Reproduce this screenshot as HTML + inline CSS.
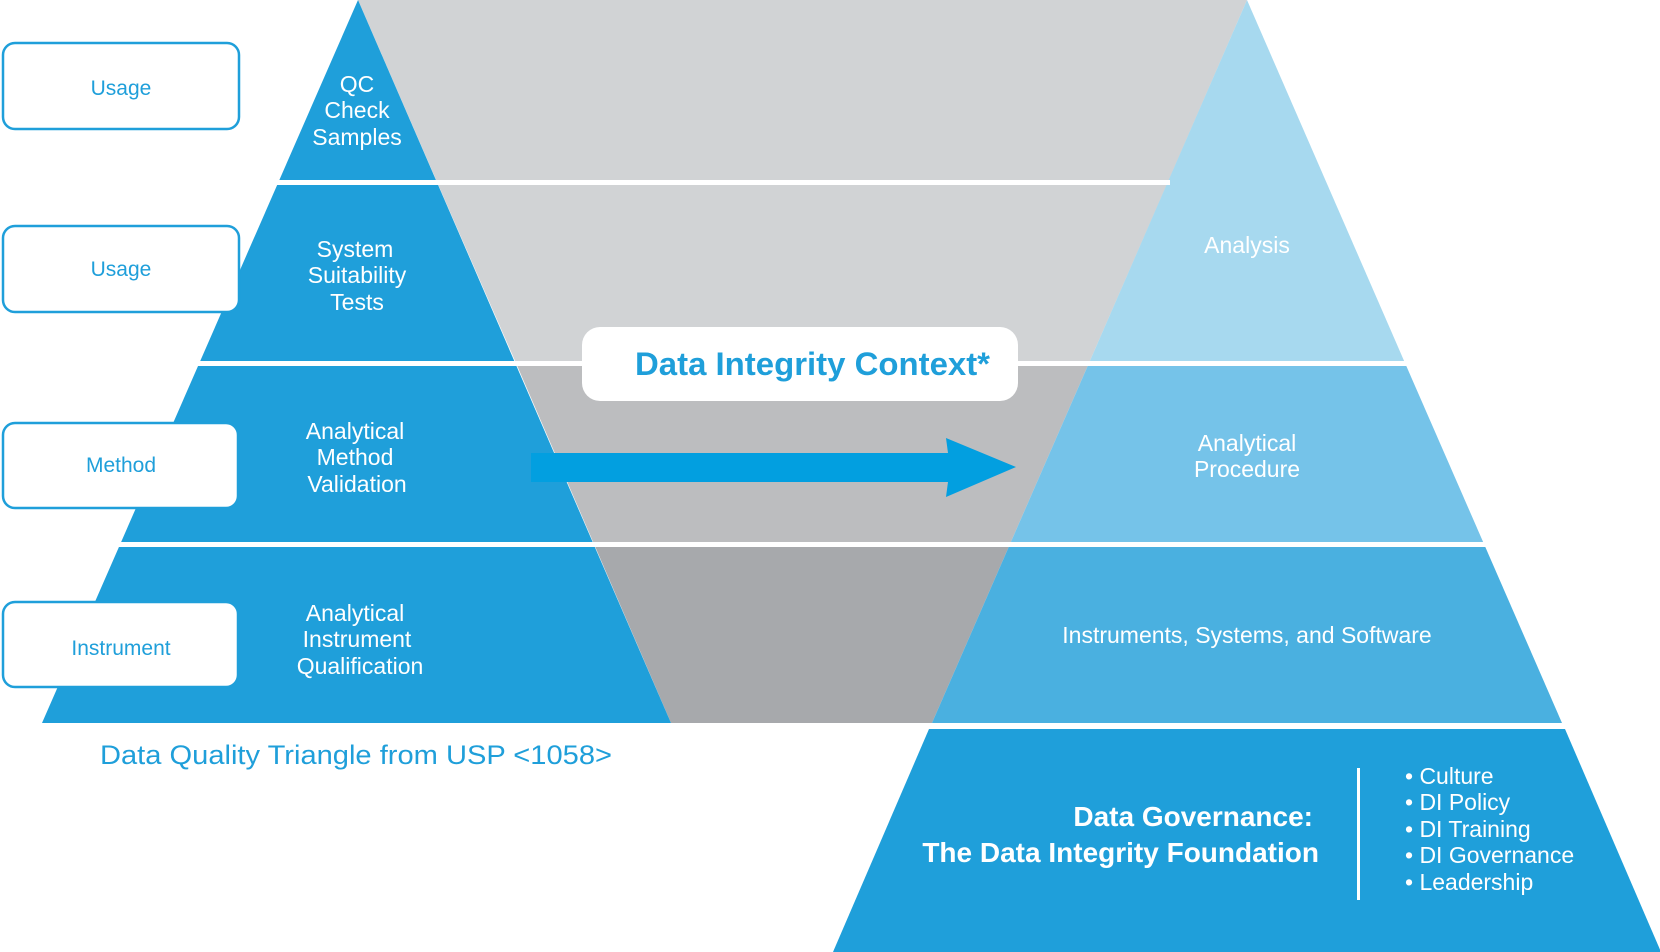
<!DOCTYPE html>
<html><head><meta charset="utf-8"><style>
html,body{margin:0;padding:0;background:#fff;}
svg{display:block;}
text{font-family:"Liberation Sans",sans-serif;}
</style></head><body>
<svg width="1660" height="952" viewBox="0 0 1660 952" xmlns="http://www.w3.org/2000/svg">
<polygon points="358,0 1247,0 1168,182 437,182" fill="#d1d3d5"/>
<polygon points="437,182 1168,182 1089,363 516,363" fill="#d1d3d5"/>
<polygon points="516,363 1089,363 1010,544 594,544" fill="#bcbdbf"/>
<polygon points="594,544 1010,544 932,723 671,723" fill="#a7a9ac"/>
<polygon points="358,0 671,723 42,723" fill="#1f9fda"/>
<polygon points="1247,0 1405,363 1089,363" fill="#a7d9ef"/>
<polygon points="1089,363 1405,363 1484,544 1010,544" fill="#75c3e9"/>
<polygon points="1010,544 1484,544 1562,723 932,723" fill="#4ab0e0"/>
<polygon points="929,729 1565,729 1661,952 833,952" fill="#1f9fda"/>
<rect x="270" y="180" width="900" height="5" fill="#fff"/>
<rect x="190" y="361" width="1230" height="5" fill="#fff"/>
<rect x="110" y="542" width="1390" height="5" fill="#fff"/>
<rect x="3" y="43" width="236" height="86" rx="12" fill="#fff" stroke="#1f9fda" stroke-width="2.5"/>
<rect x="3" y="226" width="236" height="86" rx="12" fill="#fff" stroke="#1f9fda" stroke-width="2.5"/>
<rect x="3" y="423" width="235" height="85" rx="12" fill="#fff" stroke="#1f9fda" stroke-width="2.5"/>
<rect x="3" y="602" width="235" height="85" rx="12" fill="#fff" stroke="#1f9fda" stroke-width="2.5"/>
<g fill="#1f9fda" font-size="21" text-anchor="middle">
<text x="121" y="95">Usage</text>
<text x="121" y="276">Usage</text>
<text x="121" y="472">Method</text>
<text x="121" y="655">Instrument</text>
</g>
<g fill="#fff" font-size="23" text-anchor="middle">
<text x="357" y="92">QC</text>
<text x="357" y="118">Check</text>
<text x="357" y="145">Samples</text>
<text x="355" y="257">System</text>
<text x="357" y="283">Suitability</text>
<text x="357" y="310">Tests</text>
<text x="355" y="439">Analytical</text>
<text x="355" y="465">Method</text>
<text x="357" y="492">Validation</text>
<text x="355" y="621">Analytical</text>
<text x="357" y="647">Instrument</text>
<text x="360" y="674">Qualification</text>
<text x="1247" y="253">Analysis</text>
<text x="1247" y="451">Analytical</text>
<text x="1247" y="477">Procedure</text>
<text x="1247" y="643">Instruments, Systems, and Software</text>
</g>
<rect x="582" y="327" width="436" height="74" rx="18" fill="#fff"/>
<text x="635" y="375" fill="#1f9fda" font-size="32" font-weight="bold" textLength="355" lengthAdjust="spacingAndGlyphs">Data Integrity Context*</text>
<polygon points="531,453 948,453 946,438 1016,467 946,497 948,482 531,482" fill="#029fe0"/>
<text x="100" y="764" fill="#1f9fda" font-size="27" textLength="512" lengthAdjust="spacingAndGlyphs">Data Quality Triangle from USP &lt;1058&gt;</text>
<g fill="#fff" font-size="28" font-weight="bold" text-anchor="end">
<text x="1313" y="826">Data Governance:</text>
<text x="1319" y="862">The Data Integrity Foundation</text>
</g>
<rect x="1357" y="768" width="3" height="132" fill="#fff"/>
<g fill="#fff" font-size="23">
<text x="1405" y="784">• Culture</text>
<text x="1405" y="810">• DI Policy</text>
<text x="1405" y="837">• DI Training</text>
<text x="1405" y="863">• DI Governance</text>
<text x="1405" y="890">• Leadership</text>
</g>
</svg>
</body></html>
